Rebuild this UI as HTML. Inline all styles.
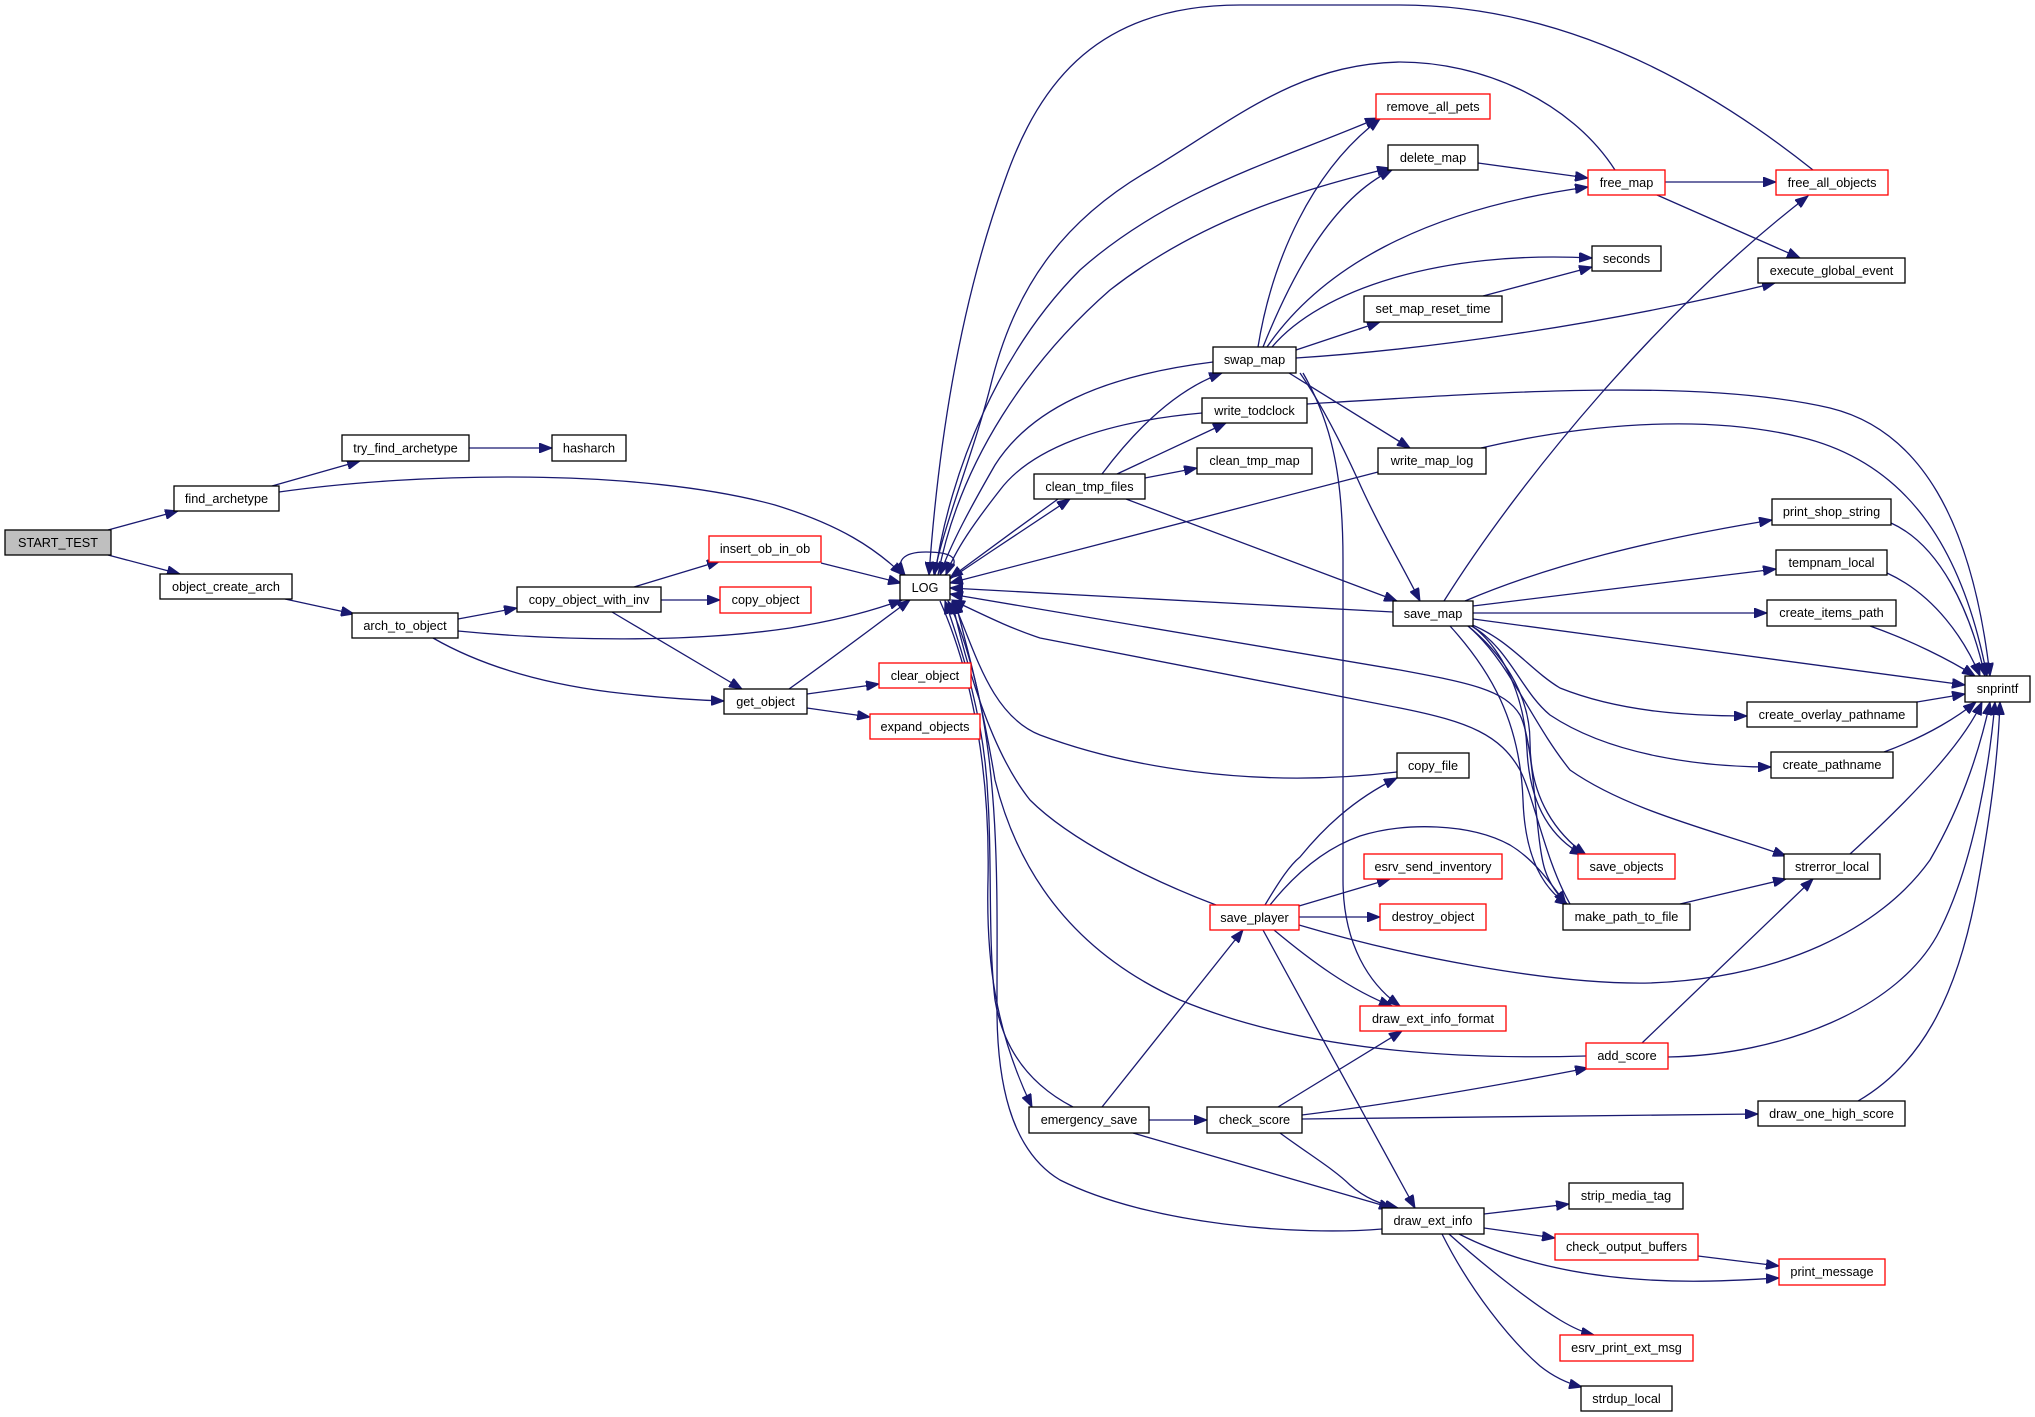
<!DOCTYPE html>
<html><head><meta charset="utf-8"><style>
body{margin:0;background:#fff}
svg{display:block}
text{font-family:"Liberation Sans",Arial,sans-serif;font-size:12.7px;text-anchor:middle;fill:#000}
</style></head><body>
<svg width="2035" height="1417" viewBox="0 0 2035 1417" xmlns="http://www.w3.org/2000/svg">
<defs>
<marker id="a" markerUnits="userSpaceOnUse" markerWidth="14" markerHeight="10" refX="13" refY="5" orient="auto">
<path d="M0,0 L13,5 L0,10 Z" fill="#191970" stroke="#191970" stroke-width="1"/>
</marker>
</defs>
<rect width="2035" height="1417" fill="#fff"/>
<g fill="none" stroke="#191970" stroke-width="1.3" marker-end="url(#a)">
<path d="M108,530 L178,511"/>
<path d="M108,555 L180,574"/>
<path d="M272,486 L360,461"/>
<path d="M469,448 L552,448"/>
<path d="M279,492 C420,472 640,468 775,505 C840,525 875,548 903,575"/>
<path d="M285,599 L354,614"/>
<path d="M458,619 L517,608"/>
<path d="M458,631 C560,641 690,643 790,628 C840,620 875,610 902,600"/>
<path d="M433,638 C480,665 540,683 610,692 C660,698 695,700 724,701"/>
<path d="M634,587 L720,561"/>
<path d="M661,600 L720,600"/>
<path d="M612,612 L742,689"/>
<path d="M821,563 L901,583"/>
<path d="M789,689 C830,660 872,628 910,600"/>
<path d="M807,694 L879,684"/>
<path d="M807,708 L870,717"/>
<path d="M945,575 C962,560 955,552 926,552 C902,552 895,562 905,575"/>
<path d="M950,579 C990,552 1035,522 1070,499"/>
<path d="M1058,499 C1022,525 985,552 950,578"/>
<path d="M1102,474 C1135,430 1175,390 1222,373"/>
<path d="M1117,474 L1226,423"/>
<path d="M1145,478 L1197,468"/>
<path d="M1126,499 L1397,601"/>
<path d="M1202,413 C1100,422 1030,450 1000,490 C975,522 955,550 946,575"/>
<path d="M1213,362 C1100,376 1030,410 995,465 C972,505 950,545 940,575"/>
<path d="M1258,347 C1272,260 1312,170 1380,119"/>
<path d="M1263,347 C1290,280 1330,200 1392,170"/>
<path d="M1267,347 C1320,270 1420,210 1588,187"/>
<path d="M1272,347 C1320,290 1440,250 1592,258"/>
<path d="M1296,350 L1380,322"/>
<path d="M1296,358 C1420,350 1600,326 1775,283"/>
<path d="M1483,296 L1592,267"/>
<path d="M1478,163 L1588,178"/>
<path d="M1665,182 L1776,182"/>
<path d="M1657,195 L1800,258"/>
<path d="M1444,601 C1520,480 1660,310 1808,196"/>
<path d="M1615,170 C1570,100 1480,62 1400,62 C1300,64 1240,115 1150,170 C1060,222 1015,290 992,380 C975,450 945,520 934,575"/>
<path d="M1813,170 C1700,80 1560,5 1400,5 L1240,5 C1100,5 1040,80 1005,180 C965,290 940,420 929,575"/>
<path d="M935,575 C950,470 1000,350 1080,270 C1170,190 1280,160 1378,118"/>
<path d="M938,575 C960,460 1030,360 1110,290 C1200,220 1300,190 1390,168"/>
<path d="M1307,404 C1500,392 1700,378 1830,408 C1920,430 1972,520 1990,676"/>
<path d="M1481,448 C1580,425 1700,413 1800,437 C1905,462 1962,545 1987,676"/>
<path d="M1378,472 L950,583"/>
<path d="M1289,373 L1410,448"/>
<path d="M1300,373 C1322,405 1342,445 1358,480 C1378,525 1402,565 1420,601"/>
<path d="M1303,373 C1330,420 1343,470 1343,560 L1343,880 C1343,945 1370,985 1400,1006"/>
<path d="M1567,904 C1558,895 1550,885 1545,870 C1535,840 1535,745 1520,715 C1505,690 1470,683 1400,670 L950,594"/>
<path d="M1570,904 C1545,860 1535,800 1520,770 C1500,735 1470,722 1400,708 L1040,638 C1010,628 990,618 952,600"/>
<path d="M1397,772 C1250,790 1120,765 1040,735 C990,715 975,650 953,601"/>
<path d="M1393,612 L950,588"/>
<path d="M1465,601 C1550,565 1650,540 1772,520"/>
<path d="M1473,606 L1776,569"/>
<path d="M1473,613 L1767,613"/>
<path d="M1473,619 L1965,685"/>
<path d="M1470,624 C1510,640 1530,670 1560,688 C1620,712 1690,716 1747,716"/>
<path d="M1470,625 C1510,648 1520,690 1550,715 C1610,755 1700,767 1771,767"/>
<path d="M1468,626 C1510,662 1530,720 1570,770 C1630,812 1720,832 1786,856"/>
<path d="M1468,626 C1500,652 1530,692 1530,742 C1530,800 1558,835 1586,855"/>
<path d="M1471,625 C1505,650 1525,700 1527,750 C1530,810 1555,840 1583,855"/>
<path d="M1450,626 C1490,670 1520,720 1523,800 C1525,860 1545,890 1568,905"/>
<path d="M1891,523 C1940,545 1970,610 1985,676"/>
<path d="M1887,573 C1935,595 1965,640 1980,676"/>
<path d="M1870,626 C1910,640 1950,660 1975,676"/>
<path d="M1917,702 L1965,694"/>
<path d="M1884,752 C1930,735 1960,715 1976,702"/>
<path d="M1850,854 C1920,790 1965,740 1982,702"/>
<path d="M1299,925 C1400,955 1550,985 1650,983 C1780,978 1880,930 1930,860 C1965,800 1982,740 1990,702"/>
<path d="M1668,1057 C1780,1055 1900,1010 1940,930 C1975,860 1990,760 1995,702"/>
<path d="M1858,1101 C1920,1065 1955,1000 1975,900 C1990,820 1998,760 2000,702"/>
<path d="M1680,904 L1786,879"/>
<path d="M1642,1043 L1813,879"/>
<path d="M1586,1056 C1450,1060 1300,1050 1180,1000 C1080,955 1020,880 995,780 C982,700 965,640 955,601"/>
<path d="M1216,905 C1150,880 1070,840 1030,800 C990,750 965,660 952,601"/>
<path d="M940,601 C975,680 990,780 988,880 C986,960 995,1030 1032,1107"/>
<path d="M1073,1107 C1040,1090 1005,1060 995,1000 C988,940 992,860 988,800 C985,720 962,650 945,601"/>
<path d="M1382,1229 C1300,1236 1150,1225 1060,1180 C1010,1150 996,1080 997,1000 C997,900 1000,780 975,680 C965,640 955,615 948,601"/>
<path d="M1102,1107 L1243,930"/>
<path d="M1149,1120 L1207,1120"/>
<path d="M1133,1133 L1392,1208"/>
<path d="M1278,1107 L1402,1031"/>
<path d="M1302,1115 C1400,1103 1500,1085 1588,1068"/>
<path d="M1302,1119 L1758,1114"/>
<path d="M1280,1133 C1310,1155 1335,1170 1350,1185 C1365,1198 1380,1204 1398,1208"/>
<path d="M1263,930 L1415,1208"/>
<path d="M1274,930 C1310,960 1350,990 1392,1006"/>
<path d="M1299,917 L1380,917"/>
<path d="M1299,906 L1390,879"/>
<path d="M1265,905 C1280,880 1290,865 1300,857 C1322,830 1352,800 1397,778"/>
<path d="M1270,905 C1290,880 1320,850 1360,836 C1405,822 1470,823 1510,845 C1535,860 1552,885 1566,904"/>
<path d="M1484,1214 L1569,1204"/>
<path d="M1484,1228 L1555,1238"/>
<path d="M1459,1234 C1500,1255 1560,1275 1650,1280 C1700,1283 1740,1280 1779,1278"/>
<path d="M1449,1234 C1480,1262 1530,1302 1560,1320 C1575,1329 1585,1333 1594,1335"/>
<path d="M1442,1234 C1470,1290 1510,1340 1540,1366 C1555,1378 1570,1384 1582,1387"/>
<path d="M1698,1256 L1779,1266"/>
</g>
<g stroke-width="1.3">
<rect x="5" y="530" width="106" height="25" fill="#bfbfbf" stroke="#000"/><text x="58" y="547">START_TEST</text>
<rect x="174" y="486" width="105" height="25" fill="#fff" stroke="#000"/><text x="226.5" y="503">find_archetype</text>
<rect x="160" y="574" width="132" height="25" fill="#fff" stroke="#000"/><text x="226" y="591">object_create_arch</text>
<rect x="342" y="435" width="127" height="26" fill="#fff" stroke="#000"/><text x="405.5" y="452.5">try_find_archetype</text>
<rect x="552" y="435" width="74" height="26" fill="#fff" stroke="#000"/><text x="589" y="452.5">hasharch</text>
<rect x="352" y="613" width="106" height="25" fill="#fff" stroke="#000"/><text x="405" y="630">arch_to_object</text>
<rect x="517" y="587" width="144" height="25" fill="#fff" stroke="#000"/><text x="589" y="604">copy_object_with_inv</text>
<rect x="709" y="536" width="112" height="26" fill="#fff" stroke="#f00"/><text x="765" y="553">insert_ob_in_ob</text>
<rect x="720" y="587" width="91" height="26" fill="#fff" stroke="#f00"/><text x="765.5" y="604">copy_object</text>
<rect x="724" y="689" width="83" height="25" fill="#fff" stroke="#000"/><text x="765.5" y="706">get_object</text>
<rect x="879" y="663" width="92" height="25" fill="#fff" stroke="#f00"/><text x="925" y="680">clear_object</text>
<rect x="870" y="714" width="110" height="25" fill="#fff" stroke="#f00"/><text x="925" y="731">expand_objects</text>
<rect x="900" y="575" width="50" height="25" fill="#fff" stroke="#000"/><text x="925" y="592">LOG</text>
<rect x="1034" y="474" width="111" height="25" fill="#fff" stroke="#000"/><text x="1089.5" y="491">clean_tmp_files</text>
<rect x="1197" y="448" width="115" height="26" fill="#fff" stroke="#000"/><text x="1254.5" y="465">clean_tmp_map</text>
<rect x="1202" y="398" width="105" height="25" fill="#fff" stroke="#000"/><text x="1254.5" y="415">write_todclock</text>
<rect x="1213" y="347" width="83" height="26" fill="#fff" stroke="#000"/><text x="1254.5" y="364">swap_map</text>
<rect x="1376" y="94" width="114" height="25" fill="#fff" stroke="#f00"/><text x="1433" y="111">remove_all_pets</text>
<rect x="1388" y="145" width="90" height="25" fill="#fff" stroke="#000"/><text x="1433" y="162">delete_map</text>
<rect x="1588" y="170" width="77" height="25" fill="#fff" stroke="#f00"/><text x="1626.5" y="187">free_map</text>
<rect x="1776" y="170" width="112" height="25" fill="#fff" stroke="#f00"/><text x="1832" y="187">free_all_objects</text>
<rect x="1592" y="246" width="69" height="25" fill="#fff" stroke="#000"/><text x="1626.5" y="263">seconds</text>
<rect x="1758" y="258" width="147" height="25" fill="#fff" stroke="#000"/><text x="1831.5" y="275">execute_global_event</text>
<rect x="1364" y="296" width="138" height="26" fill="#fff" stroke="#000"/><text x="1433" y="313">set_map_reset_time</text>
<rect x="1378" y="448" width="108" height="26" fill="#fff" stroke="#000"/><text x="1432" y="465">write_map_log</text>
<rect x="1772" y="499" width="119" height="26" fill="#fff" stroke="#000"/><text x="1831.5" y="516">print_shop_string</text>
<rect x="1776" y="550" width="111" height="25" fill="#fff" stroke="#000"/><text x="1831.5" y="567">tempnam_local</text>
<rect x="1393" y="601" width="80" height="25" fill="#fff" stroke="#000"/><text x="1433" y="618">save_map</text>
<rect x="1767" y="600" width="129" height="26" fill="#fff" stroke="#000"/><text x="1831.5" y="617">create_items_path</text>
<rect x="1965" y="676" width="65" height="26" fill="#fff" stroke="#000"/><text x="1997.5" y="693">snprintf</text>
<rect x="1747" y="702" width="170" height="25" fill="#fff" stroke="#000"/><text x="1832" y="719">create_overlay_pathname</text>
<rect x="1771" y="752" width="122" height="26" fill="#fff" stroke="#000"/><text x="1832" y="769">create_pathname</text>
<rect x="1397" y="753" width="72" height="25" fill="#fff" stroke="#000"/><text x="1433" y="770">copy_file</text>
<rect x="1578" y="854" width="97" height="25" fill="#fff" stroke="#f00"/><text x="1626.5" y="871">save_objects</text>
<rect x="1784" y="854" width="96" height="25" fill="#fff" stroke="#000"/><text x="1832" y="871">strerror_local</text>
<rect x="1364" y="854" width="138" height="25" fill="#fff" stroke="#f00"/><text x="1433" y="871">esrv_send_inventory</text>
<rect x="1210" y="905" width="89" height="25" fill="#fff" stroke="#f00"/><text x="1254.5" y="922">save_player</text>
<rect x="1380" y="904" width="106" height="26" fill="#fff" stroke="#f00"/><text x="1433" y="921">destroy_object</text>
<rect x="1563" y="904" width="127" height="26" fill="#fff" stroke="#000"/><text x="1626.5" y="921">make_path_to_file</text>
<rect x="1360" y="1006" width="146" height="25" fill="#fff" stroke="#f00"/><text x="1433" y="1023">draw_ext_info_format</text>
<rect x="1586" y="1043" width="82" height="26" fill="#fff" stroke="#f00"/><text x="1627" y="1060">add_score</text>
<rect x="1029" y="1107" width="120" height="26" fill="#fff" stroke="#000"/><text x="1089" y="1124">emergency_save</text>
<rect x="1207" y="1107" width="95" height="26" fill="#fff" stroke="#000"/><text x="1254.5" y="1124">check_score</text>
<rect x="1758" y="1101" width="147" height="25" fill="#fff" stroke="#000"/><text x="1831.5" y="1118">draw_one_high_score</text>
<rect x="1569" y="1183" width="114" height="26" fill="#fff" stroke="#000"/><text x="1626" y="1200">strip_media_tag</text>
<rect x="1382" y="1208" width="102" height="26" fill="#fff" stroke="#000"/><text x="1433" y="1225">draw_ext_info</text>
<rect x="1555" y="1234" width="143" height="26" fill="#fff" stroke="#f00"/><text x="1626.5" y="1251">check_output_buffers</text>
<rect x="1779" y="1259" width="106" height="26" fill="#fff" stroke="#f00"/><text x="1832" y="1276">print_message</text>
<rect x="1560" y="1335" width="133" height="26" fill="#fff" stroke="#f00"/><text x="1626.5" y="1352">esrv_print_ext_msg</text>
<rect x="1581" y="1386" width="91" height="25" fill="#fff" stroke="#000"/><text x="1626.5" y="1403">strdup_local</text>
</g>
</svg>
</body></html>
